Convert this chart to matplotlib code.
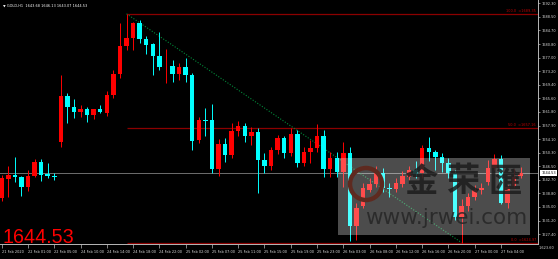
import matplotlib
matplotlib.use('Agg')
import matplotlib.pyplot as plt
from matplotlib.patches import Rectangle, Ellipse
from matplotlib.transforms import blended_transform_factory
import numpy as np

# GOLD H1 candles
opens = [1637.6, 1643.0, 1644.1, 1643.4, 1640.7, 1643.8, 1647.7, 1644.2, 1643.75, 1653.2,
         1666.2, 1663.0, 1661.7, 1662.6, 1660.8, 1662.5, 1661.5, 1666.5, 1672.35, 1680.3,
         1682.5, 1686.85, 1682.3, 1680.9, 1677.5, 1674.6, 1674.7, 1672.4, 1674.5, 1672.15,
         1653.9, 1659.6, 1659.4, 1645.6, 1652.8, 1649.5, 1656.5, 1657.8, 1655.0, 1656.2,
         1648.2, 1646.4, 1651.0, 1654.3, 1650.3, 1655.6, 1647.5, 1650.4, 1651.5, 1654.9,
         1645.6, 1648.9, 1644.9, 1650.1, 1629.7, 1635.2, 1639.8, 1641.5, 1644.5, 1640.4,
         1640.0, 1641.4, 1643.55, 1645.4, 1644.5, 1651.5, 1650.55, 1649.15, 1647.5, 1644.6,
         1632.1, 1635.3, 1637.75, 1639.8, 1642.15, 1646.1, 1648.5, 1636.2, 1641.0, 1643.68]
highs = [1643.9, 1646.6, 1649.2, 1643.8, 1645.4, 1648.45, 1648.45, 1647.4, 1644.6, 1672.1,
         1667.0, 1665.5, 1663.7, 1663.0, 1662.7, 1663.8, 1667.5, 1673.5, 1686.8, 1689.35,
         1687.1, 1687.6, 1683.1, 1681.2, 1684.3, 1679.4, 1676.4, 1675.4, 1676.8, 1672.6,
         1660.4, 1662.9, 1664.0, 1654.0, 1654.5, 1658.5, 1659.3, 1658.6, 1657.5, 1657.2,
         1650.2, 1652.0, 1655.3, 1655.1, 1657.2, 1656.8, 1652.0, 1653.9, 1658.4, 1656.7,
         1650.6, 1650.6, 1653.4, 1651.8, 1636.1, 1641.7, 1643.1, 1646.4, 1645.9, 1641.7,
         1643.1, 1645.0, 1646.4, 1647.8, 1652.4, 1654.8, 1651.0, 1650.1, 1648.7, 1645.4,
         1637.2, 1638.9, 1641.2, 1641.7, 1648.2, 1650.0, 1649.6, 1641.2, 1645.7, 1646.13]
lows = [1636.8, 1637.9, 1641.9, 1638.2, 1639.6, 1643.5, 1642.4, 1643.2, 1642.7, 1651.9,
        1658.6, 1660.0, 1660.25, 1659.0, 1659.8, 1661.4, 1660.7, 1665.8, 1671.3, 1679.1,
        1679.2, 1681.05, 1678.0, 1672.15, 1673.55, 1669.8, 1670.3, 1670.75, 1670.3, 1650.9,
        1652.9, 1655.0, 1644.5, 1643.8, 1647.7, 1648.8, 1655.0, 1653.2, 1652.5, 1638.9,
        1644.6, 1645.5, 1649.8, 1648.7, 1649.3, 1646.2, 1646.4, 1647.3, 1650.4, 1643.4,
        1643.4, 1643.3, 1640.7, 1625.3, 1625.6, 1634.6, 1639.3, 1640.7, 1639.3, 1637.9,
        1639.3, 1640.7, 1642.6, 1643.1, 1643.1, 1648.0, 1645.4, 1644.9, 1643.1, 1631.3,
        1624.97, 1634.0, 1637.0, 1638.6, 1641.2, 1645.5, 1635.9, 1634.6, 1640.6, 1643.07]
closes = [1643.2, 1644.1, 1643.3, 1640.7, 1643.75, 1647.7, 1644.0, 1643.7, 1643.4, 1666.2,
          1663.0, 1661.7, 1662.6, 1660.8, 1662.5, 1661.7, 1666.5, 1672.4, 1680.3, 1682.6,
          1686.85, 1682.2, 1680.6, 1677.5, 1674.5, 1674.75, 1672.4, 1674.5, 1672.0, 1653.7,
          1659.5, 1659.3, 1645.6, 1652.8, 1649.5, 1656.5, 1657.8, 1655.0, 1656.2, 1648.2,
          1646.4, 1651.0, 1654.3, 1650.3, 1655.6, 1647.5, 1650.6, 1651.5, 1655.0, 1645.6,
          1648.9, 1644.9, 1650.1, 1629.7, 1634.6, 1640.3, 1641.5, 1644.5, 1640.3, 1640.0,
          1641.7, 1643.75, 1645.4, 1644.2, 1651.5, 1650.6, 1649.15, 1647.5, 1644.5, 1632.1,
          1635.3, 1637.75, 1639.8, 1640.4, 1646.0, 1648.5, 1636.2, 1640.75, 1643.55, 1644.53]

time_labels = ['21 Feb 2020', '22 Feb 01:00', '22 Feb 05:00', '24 Feb 10:00', '24 Feb 14:00',
               '24 Feb 18:00', '24 Feb 22:00', '25 Feb 02:00', '25 Feb 07:00', '25 Feb 11:00',
               '25 Feb 15:00', '25 Feb 19:00', '25 Feb 23:00', '26 Feb 03:00', '26 Feb 08:00',
               '26 Feb 12:00', '26 Feb 16:00', '26 Feb 20:00', '27 Feb 00:00', '27 Feb 04:00']
time_label_bars = list(range(0, 80, 4))

price_ticks = [1692.30, 1688.50, 1684.70, 1680.80, 1677.00, 1673.20, 1669.40, 1665.60, 1661.80,
               1657.90, 1654.10, 1650.30, 1646.50, 1642.70, 1638.80, 1635.00, 1631.20, 1627.40, 1623.60]

fib_levels = [100.0, 50.0, 0.0]
fib_high, fib_low = 1689.35, 1624.97
fib_start, fib_end = 19, 70   # bars of the swing high / low
bid = 1644.53
ohlc_header = 'GOLD,H1  1643.68 1646.13 1643.07 1644.53'

UP, DOWN = '#ff0000', '#00ffff'
SMALL = 2.5

W, H = 558, 259
fig = plt.figure(figsize=(W / 100, H / 100), dpi=100, facecolor='black')
ax = fig.add_axes([0, 15 / H, 538 / W, 244 / H])
ax.set_facecolor('black')

o = np.array(opens); h = np.array(highs); l = np.array(lows); c = np.array(closes)
x = np.arange(len(o))
cols = [UP if cc >= oo else DOWN for oo, cc in zip(o, c)]

# wicks + bodies
ax.vlines(x, l, h, colors=cols, linewidth=0.7, zorder=3)
body_lo = np.minimum(o, c)
body_h = np.maximum(np.abs(c - o), 0.2)
ax.bar(x, body_h, bottom=body_lo, width=0.68, color=cols, linewidth=0, zorder=4)

# bid line
ax.axhline(bid, color='#6e6e6e', linewidth=0.7, zorder=2)

xmax = 81.63
ax.set_xlim(-0.26, xmax)
ax.set_ylim(1624.59, 1693.23)

# fibonacci retracement
for lvl in fib_levels:
    p = fib_low + (fib_high - fib_low) * lvl / 100
    ax.hlines(p, fib_start, xmax, colors='#8b0000', linewidth=0.9, zorder=2)
    ax.text(xmax - 0.3, p + 0.3, '%.1f  =%.2f' % (lvl, p), color='#c00000',
            fontsize=SMALL, ha='right', va='bottom', zorder=5)
ax.plot([fib_start, fib_end], [fib_high, fib_low], color='#008a3a', linestyle=(0, (1, 1.5)),
        linewidth=0.8, zorder=2)

# axes look
for s in ['top', 'left']:
    ax.spines[s].set_visible(False)
for s in ['right', 'bottom']:
    ax.spines[s].set_color('#b8b8b8')
    ax.spines[s].set_linewidth(0.7)
ax.yaxis.tick_right()
ax.set_yticks(price_ticks[:-1])
ax.set_yticklabels(['%.2f' % v for v in price_ticks[:-1]])
ax.tick_params(axis='y', colors='#b8b8b8', labelcolor='#dddddd', labelsize=SMALL,
               length=1.5, width=0.5, pad=0.8)
ax.text(1.0, price_ticks[-1], ' %.2f' % price_ticks[-1],
        transform=blended_transform_factory(ax.transAxes, ax.transData),
        color='#dddddd', fontsize=SMALL, va='center', ha='left', clip_on=False)
ax.set_xticks(time_label_bars)
ax.set_xticklabels(time_labels, ha='left')
ax.tick_params(axis='x', colors='#b8b8b8', labelcolor='#dddddd', labelsize=SMALL,
               length=3, width=0.5, pad=1.5)

# current price tag on the axis
ax.text(1.006, bid, '%.2f' % bid, transform=blended_transform_factory(ax.transAxes, ax.transData),
        color='black', fontsize=SMALL, va='center', ha='left', clip_on=False,
        bbox=dict(facecolor='white', edgecolor='none', pad=0.7))

fig.text(3 / W, 1 - 6 / H, '\u25bc ' + ohlc_header, color='white', fontsize=SMALL, va='center')
fig.text(2 / W, 1 - 243 / H, '%.2f' % bid, color='#ff0000', fontsize=14.2,
         family='Liberation Sans', va='baseline')

# watermark
fig.add_artist(Rectangle((338 / W, 1 - 235 / H), 192 / W, 77 / H, transform=fig.transFigure,
                         facecolor='white', alpha=0.3, edgecolor='none', zorder=10))
fig.add_artist(Ellipse((366 / W, 1 - 184 / H), 32 / W, 32 / H, transform=fig.transFigure,
                       facecolor='none', edgecolor='#5e2a20', linewidth=3.2, zorder=11))
for ch, cx in zip('金荣匯', [421, 463, 505]):
    fig.text(cx / W, 1 - 182 / H, ch, color='#1c1c1c', fontsize=24, ha='center', va='center',
             family=['Noto Sans CJK SC', 'DejaVu Sans'], weight='bold', alpha=0.85, zorder=12)
fig.text(446 / W, 1 - 218 / H, 'www.jrwei.com', color='#262626', fontsize=15.5, ha='center',
         va='center', alpha=0.85, zorder=12)

fig.savefig('out.png', dpi=100, facecolor='black')
